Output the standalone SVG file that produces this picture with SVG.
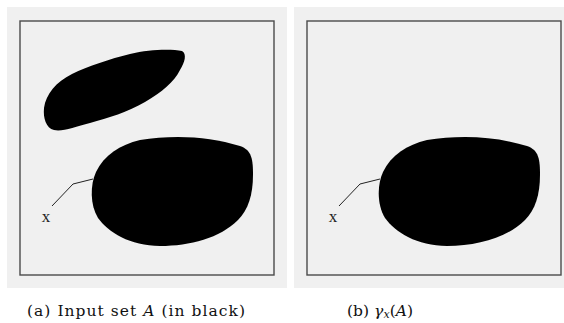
<svg xmlns="http://www.w3.org/2000/svg" width="564" height="323" viewBox="0 0 564 323">
<style>
.bg{fill:#f0f0f0}
.box{fill:none;stroke:#4a4a4a;stroke-width:1.4}
.blob{fill:#000}
.lead{fill:none;stroke:#222;stroke-width:1}
.lbl{font-family:"Liberation Serif","DejaVu Serif",serif;font-size:17px;fill:#222}
.cap{font-family:"DejaVu Serif","Liberation Serif",serif;font-size:15.5px;fill:#111}
</style>
<defs>
<path id="big" d="M178,137 C200,137 220,140 240,146 C252,150 253,160 253,175 C253,195 248,210 238,220 C220,238 190,246 160,246 C130,246 108,232 98,218 C90,205 90,185 96,172 C104,155 120,145 140,140 C152,138 165,137 178,137 Z"/>
</defs>
<g id="panel-a">
<rect class="bg" x="7" y="7" width="280" height="281"/>
<rect class="box" x="20" y="21" width="254" height="254"/>
<path id="small-blob" class="blob" d="M182,51 C187,54 185,62 180,70 C174,82 162,92 145,102 C128,112 108,118 90,123 C75,127 62,132 54,130 C46,128 43,118 44,108 C46,94 56,82 72,74 C88,66 110,59 130,54 C150,49 172,49 182,51 Z"/>
<use class="blob" href="#big"/>
<polyline class="lead" points="52,206 73,184 93,179"/>
<text class="lbl" x="46" y="222" text-anchor="middle">x</text>
</g>
<g id="panel-b">
<rect class="bg" x="294" y="7" width="270" height="281"/>
<rect class="box" x="307" y="21" width="254" height="254"/>
<use class="blob" href="#big" transform="translate(287,0)"/>
<polyline class="lead" points="339,206 360,184 380,179"/>
<text class="lbl" x="333" y="222" text-anchor="middle">x</text>
</g>
<g id="captions">
<text class="cap" x="27" y="315.5" textLength="218" lengthAdjust="spacing">(a) Input set <tspan font-style="italic">A</tspan> (in black)</text>
<text class="cap" x="347" y="315.5" textLength="66" lengthAdjust="spacing">(b) <tspan font-style="italic">γ</tspan><tspan font-style="italic" font-size="11" dy="2.5">x</tspan><tspan dy="-2.5">(</tspan><tspan font-style="italic">A</tspan>)</text>
</g>
</svg>
